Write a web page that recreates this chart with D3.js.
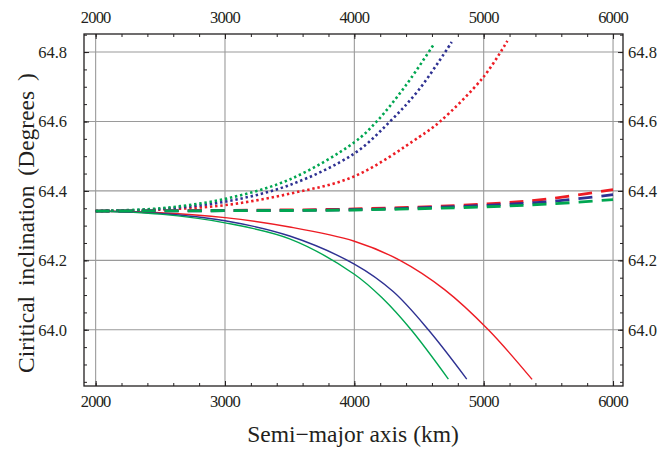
<!DOCTYPE html>
<html>
<head>
<meta charset="utf-8">
<script src="https://cdn.jsdelivr.net/npm/d3@7"></script>
<style>
  body { margin: 0; background: #fff; }
  text { font-family: "Liberation Serif", "Times New Roman", serif; fill: #231f20; }
</style>
</head>
<body>
<svg id="chart" width="672" height="449"></svg>
<script>
// ---- data (semi-major axis in km, critical inclination in degrees) ----
const xTicks = [2000, 3000, 4000, 5000, 6000];
const yTicks = [64.0, 64.2, 64.4, 64.6, 64.8];
const seriesColors = ["#ed1c24", "#2e3192", "#00a651"]; // red, blue, green

// solid (decreasing)
const solidRedA   = [2000, 2500, 3000, 3500, 4000, 4353, 4700, 5036, 5374];
const solidRedI   = [64.342, 64.337, 64.323, 64.296, 64.255, 64.200, 64.115, 64.000, 63.857];
const solidBlueA  = [2000, 2500, 3000, 3500, 4000, 4300, 4572, 4869];
const solidBlueI  = [64.342, 64.335, 64.314, 64.270, 64.189, 64.110, 64.000, 63.858];
const solidGreenA = [2000, 2500, 3000, 3500, 4000, 4220, 4439, 4727];
const solidGreenI = [64.342, 64.333, 64.308, 64.262, 64.160, 64.090, 64.000, 63.858];

// dotted (increasing)
const dotRedA   = [2000, 2500, 3000, 3500, 4000, 4500, 4663, 5000, 5183];
const dotRedI   = [64.342, 64.346, 64.359, 64.392, 64.442, 64.555, 64.600, 64.729, 64.832];
const dotBlueA  = [2000, 2500, 3000, 3500, 4000, 4276, 4500, 4753];
const dotBlueI  = [64.342, 64.348, 64.369, 64.417, 64.508, 64.600, 64.692, 64.829];
const dotGreenA = [2000, 2500, 3000, 3500, 4000, 4173, 4400, 4619];
const dotGreenI = [64.342, 64.350, 64.377, 64.433, 64.540, 64.600, 64.705, 64.825];

// dashed (nearly flat)
const dashA      = [2000, 3000, 4000, 5000, 5500, 6000];
const dashRedI   = [64.342, 64.344, 64.348, 64.362, 64.377, 64.404];
const dashBlueI  = [64.342, 64.343, 64.346, 64.358, 64.369, 64.389];
const dashGreenI = [64.342, 64.343, 64.345, 64.354, 64.362, 64.375];

// ---- layout ----
const svg = d3.select("#chart");
const L = 84, R = 623, T = 34, B = 386;
const x = d3.scaleLinear().domain([1910, 6077]).range([L, R]);
const y = d3.scaleLinear().domain([63.838, 64.852]).range([B, T]);

const xMinor = d3.range(2000, 6001, 200);
const yMinor = d3.range(63.85, 64.851, 0.05).map(v => +v.toFixed(2));

// grid
const grid = svg.append("g").attr("stroke", "#9a9a9a").attr("stroke-width", 1.1);
xTicks.forEach(t => grid.append("line").attr("x1", x(t)).attr("x2", x(t)).attr("y1", T).attr("y2", B));
yTicks.forEach(t => grid.append("line").attr("x1", L).attr("x2", R).attr("y1", y(t)).attr("y2", y(t)));

// axes (inward ticks on all four sides)
function tickAxis(axisFn, scale, vals, size, tx, ty) {
  svg.append("g").attr("transform", `translate(${tx},${ty})`)
    .call(axisFn(scale).tickValues(vals).tickSizeInner(size).tickSizeOuter(0).tickFormat(""));
}
tickAxis(d3.axisTop, x, xMinor, 3, 0, B);
tickAxis(d3.axisTop, x, xTicks, 5, 0, B);
tickAxis(d3.axisBottom, x, xMinor, 3, 0, T);
tickAxis(d3.axisBottom, x, xTicks, 5, 0, T);
tickAxis(d3.axisRight, y, yMinor, 3, L, 0);
tickAxis(d3.axisRight, y, yTicks, 5, L, 0);
tickAxis(d3.axisLeft, y, yMinor, 3, R, 0);
tickAxis(d3.axisLeft, y, yTicks, 5, R, 0);
svg.selectAll(".domain").remove();
svg.selectAll(".tick line").attr("stroke", "#231f20").attr("stroke-width", 1);

// labels
const fs = 16.5;
xTicks.forEach(t => {
  svg.append("text").attr("x", x(t)).attr("y", 407).attr("text-anchor", "middle")
    .attr("font-size", fs).attr("letter-spacing", -0.8).text(t);
  svg.append("text").attr("x", x(t)).attr("y", 23).attr("text-anchor", "middle")
    .attr("font-size", fs).attr("letter-spacing", -0.8).text(t);
});
yTicks.forEach(t => {
  svg.append("text").attr("x", 67).attr("y", y(t) + 6).attr("text-anchor", "end")
    .attr("font-size", fs).text(d3.format(".1f")(t));
  svg.append("text").attr("x", 628).attr("y", y(t) + 6).attr("text-anchor", "start")
    .attr("font-size", fs).text(d3.format(".1f")(t));
});

// series
const line = d3.line().x(d => x(d[0])).y(d => y(d[1])).curve(d3.curveCatmullRom.alpha(0.5));
const zip = (a, b) => a.map((v, i) => [v, b[i]]);
const plot = svg.append("g");

const dashes = [dashRedI, dashBlueI, dashGreenI];
const solids = [[solidRedA, solidRedI], [solidBlueA, solidBlueI], [solidGreenA, solidGreenI]];
const dots = [[dotRedA, dotRedI], [dotBlueA, dotBlueI], [dotGreenA, dotGreenI]];

solids.forEach((s, i) => plot.append("path").attr("d", line(zip(s[0], s[1])))
  .attr("fill", "none").attr("stroke", seriesColors[i]).attr("stroke-width", 1.4));
dots.forEach((s, i) => plot.append("path").attr("d", line(zip(s[0], s[1])))
  .attr("fill", "none").attr("stroke", seriesColors[i]).attr("stroke-width", 2.6)
  .attr("stroke-dasharray", "2.4,2.8"));
dashes.forEach((s, i) => plot.append("path").attr("d", line(zip(dashA, s)))
  .attr("fill", "none").attr("stroke", seriesColors[i]).attr("stroke-width", 2.8)
  .attr("stroke-dasharray", "14,9"));

// frame
svg.append("rect").attr("x", L).attr("y", T).attr("width", R - L).attr("height", B - T)
  .attr("fill", "none").attr("stroke", "#231f20").attr("stroke-width", 1.3);

// axis titles
svg.append("text").attr("x", 353).attr("y", 442).attr("text-anchor", "middle")
  .attr("font-size", 23.5).text("Semi\u2212major axis (km)");
svg.append("text").attr("transform", "translate(34,223) rotate(-90)").attr("text-anchor", "middle")
  .attr("font-size", 23.5).attr("word-spacing", 4).text("Ciritical inclination (Degrees )");
</script>
</body>
</html>
